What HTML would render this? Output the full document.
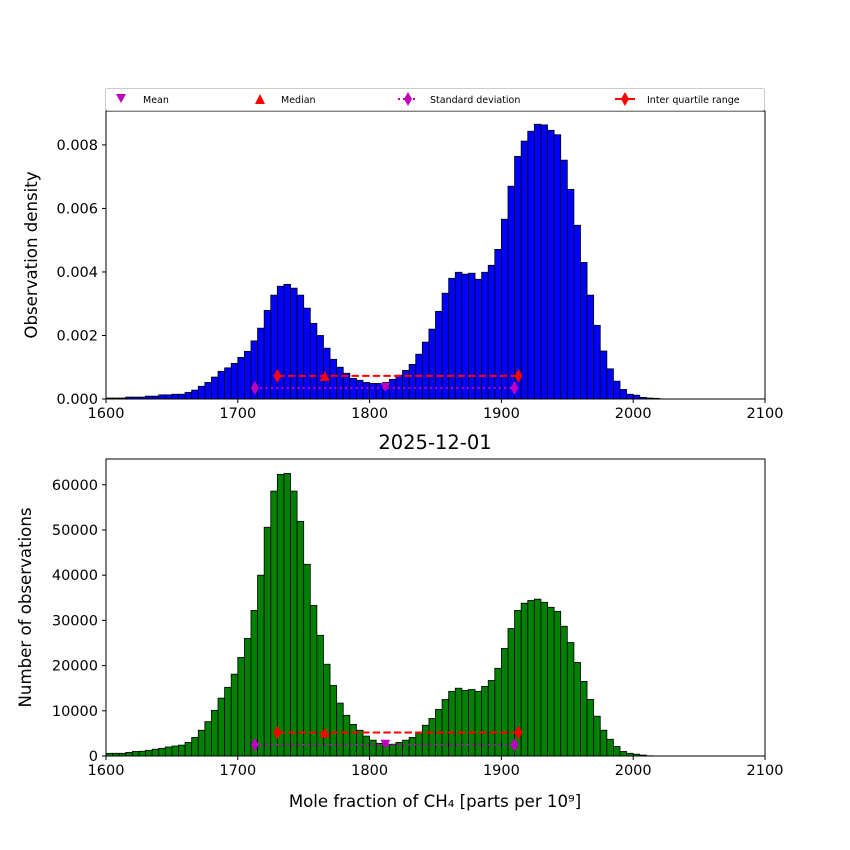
<!DOCTYPE html>
<html><head><meta charset="utf-8"><style>
body{margin:0;background:#fff}
svg{display:block;font-family:"DejaVu Sans","Liberation Sans",sans-serif}
</style></head><body>
<svg id="chart" width="850" height="850" viewBox="0 0 850 850" xmlns="http://www.w3.org/2000/svg">
<rect width="850" height="850" fill="#fff"/>
<g id="top"></g><g id="bot"></g>
<g>
<rect x="105.5" y="88.5" width="659" height="22" rx="2" fill="#fff" stroke="#ccc"/>
<polygon points="116,94 126,94 121,103" fill="#bf00bf"/>
<text x="143" y="103" font-size="9.5">Mean</text>
<polygon points="255,104 265,104 260,94" fill="#ff0000"/>
<text x="281" y="103" font-size="9.5">Median</text>
<line x1="398" y1="99" x2="418" y2="99" stroke="#bf00bf" stroke-width="2" stroke-dasharray="2,3"/>
<polygon points="408,92 412,99 408,106 404,99" fill="#bf00bf"/>
<text x="430" y="103" font-size="9.5">Standard deviation</text>
<line x1="615" y1="99" x2="635" y2="99" stroke="#ff0000" stroke-width="2"/>
<polygon points="625,92 629,99 625,106 621,99" fill="#ff0000"/>
<text x="647" y="103" font-size="9.5">Inter quartile range</text>
</g>
</svg>
<script>
const binStart = 1600;
const binWidth = 5;
const densityValues = [0.00003,0.00003,0.00003,0.00006,0.00006,0.00006,0.00009,0.00009,0.00013,0.00013,0.00015,0.00015,0.00021,0.00028,0.0004,0.00052,0.00069,0.00087,0.00098,0.00112,0.00131,0.0015,0.00183,0.00223,0.00279,0.00327,0.00355,0.00361,0.00349,0.00327,0.00286,0.00238,0.002,0.0016,0.00125,0.001,0.00081,0.00065,0.00059,0.00052,0.00049,0.00049,0.00052,0.00062,0.00075,0.0009,0.00109,0.00141,0.00179,0.0022,0.00276,0.00333,0.0038,0.00399,0.00393,0.00396,0.00377,0.00399,0.00421,0.00471,0.00566,0.0067,0.00764,0.00812,0.00843,0.00865,0.00863,0.00846,0.00832,0.00752,0.0066,0.00547,0.0043,0.00327,0.00232,0.00151,0.00095,0.00056,0.0003,0.00015,0.00012,0.00005,0.00003,0.00002];
const countValues = [590,600,600,800,1000,1050,1250,1500,1700,2000,2200,2400,3000,4100,5700,7600,10100,12800,15200,18100,21800,26000,32200,40000,50600,58600,62300,62500,58600,51900,42400,33300,26700,20300,15600,11700,9000,7000,5700,4400,3500,2800,2600,2600,3000,3500,4100,5200,6800,8300,10300,12500,14300,15000,14500,14700,14300,15400,16700,19400,23800,28200,32200,33800,34400,34700,34000,32900,32000,28700,25100,20700,16500,12500,8800,5700,3700,2100,1000,600,400,200,50];
const xTicks = [1600,1700,1800,1900,2000,2100];
const densityTicks = ["0.000","0.002","0.004","0.006","0.008"];
const countTicks = [0,10000,20000,30000,40000,50000,60000];
const statsX = {mean:1812, median:1766, sdLo:1713, sdHi:1910, iqrLo:1730, iqrHi:1913};
const densityStatsY = {iqr:0.00073, sd:0.00035};
const countStatsY = {iqr:5200, sd:2500};

const NS = "http://www.w3.org/2000/svg";
function mk(parent, tag, attrs){const e=document.createElementNS(NS,tag);for(const k in attrs)e.setAttribute(k,attrs[k]);parent.appendChild(e);return e;}

function panel(g, o){
  const L=106, R=765, T=o.top, B=o.bottom;
  const xs = v => L + (v-1600)/500*(R-L);
  const ys = v => B - v/o.ymax*(B-T);
  o.values.forEach((v,i)=>{
    const x0=xs(binStart+i*binWidth), x1=xs(binStart+(i+1)*binWidth);
    const r=mk(g,'rect',{x:x0,y:ys(v),width:x1-x0,height:B-ys(v),fill:o.color,stroke:'#000','stroke-width':0.8});
    
    
  });
  const sy=ys(o.sy.sd), iy=ys(o.sy.iqr);
  mk(g,'line',{x1:xs(statsX.sdLo),x2:xs(statsX.sdHi),y1:sy,y2:sy,stroke:'#bf00bf','stroke-width':2,'stroke-dasharray':'2,3.3'});
  mk(g,'line',{x1:xs(statsX.iqrLo),x2:xs(statsX.iqrHi),y1:iy,y2:iy,stroke:'#ff0000','stroke-width':2,'stroke-dasharray':'7.4,3.2'});
  const dia=(x,y,c,n)=>{const p=mk(g,'polygon',{points:`${x},${y-7} ${x+4},${y} ${x},${y+7} ${x-4},${y}`,fill:c});};
  dia(xs(statsX.sdLo),sy,'#bf00bf','std-marker');dia(xs(statsX.sdHi),sy,'#bf00bf','std-marker');
  dia(xs(statsX.iqrLo),iy,'#ff0000','iqr-marker');dia(xs(statsX.iqrHi),iy,'#ff0000','iqr-marker');
  const mx=xs(statsX.mean);
  const m=mk(g,'polygon',{points:`${mx-5},${sy-5} ${mx+5},${sy-5} ${mx},${sy+4}`,fill:'#bf00bf'});
  
  const dx=xs(statsX.median);
  const md=mk(g,'polygon',{points:`${dx-5},${iy+5} ${dx+5},${iy+5} ${dx},${iy-5}`,fill:'#ff0000'});
  
  const f=mk(g,'rect',{x:L,y:T,width:R-L,height:B-T,fill:'none',stroke:'#000','stroke-width':1});
  
  xTicks.forEach(t=>{
    mk(g,'line',{x1:xs(t),x2:xs(t),y1:B,y2:B+4,stroke:'#000'});
    const tx=mk(g,'text',{x:xs(t),y:B+19,'font-size':14.5,'text-anchor':'middle'});tx.textContent=t;
    
  });
  o.yt.forEach(t=>{
    const y=ys(parseFloat(t));
    mk(g,'line',{x1:L-4,x2:L,y1:y,y2:y,stroke:'#000'});
    const tx=mk(g,'text',{x:L-8,y:y+5,'font-size':14.5,'text-anchor':'end'});tx.textContent=t;
    
  });
  const yl=mk(g,'text',{x:0,y:0,'font-size':16.6,'text-anchor':'middle',transform:`translate(${o.ylx},${(T+B)/2}) rotate(-90)`});
  yl.textContent=o.ylabel;
  
}
panel(document.getElementById('top'),{top:111,bottom:399,ymax:0.0090677,values:densityValues,color:'#0000ff',sy:densityStatsY,yt:densityTicks,ylabel:'Observation density',ylx:37});
panel(document.getElementById('bot'),{top:459,bottom:756,ymax:65700,values:countValues,color:'#008000',sy:countStatsY,yt:countTicks.map(String),ylabel:'Number of observations',ylx:31});
const svg=document.getElementById('chart');
const title=mk(svg,'text',{x:435,y:449,'font-size':19.5,'text-anchor':'middle'});title.textContent='2025-12-01';

const xl=mk(svg,'text',{x:435,y:807,'font-size':16.6,'text-anchor':'middle'});xl.textContent='Mole fraction of CH₄ [parts per 10⁹]';

</script>
</body></html>
